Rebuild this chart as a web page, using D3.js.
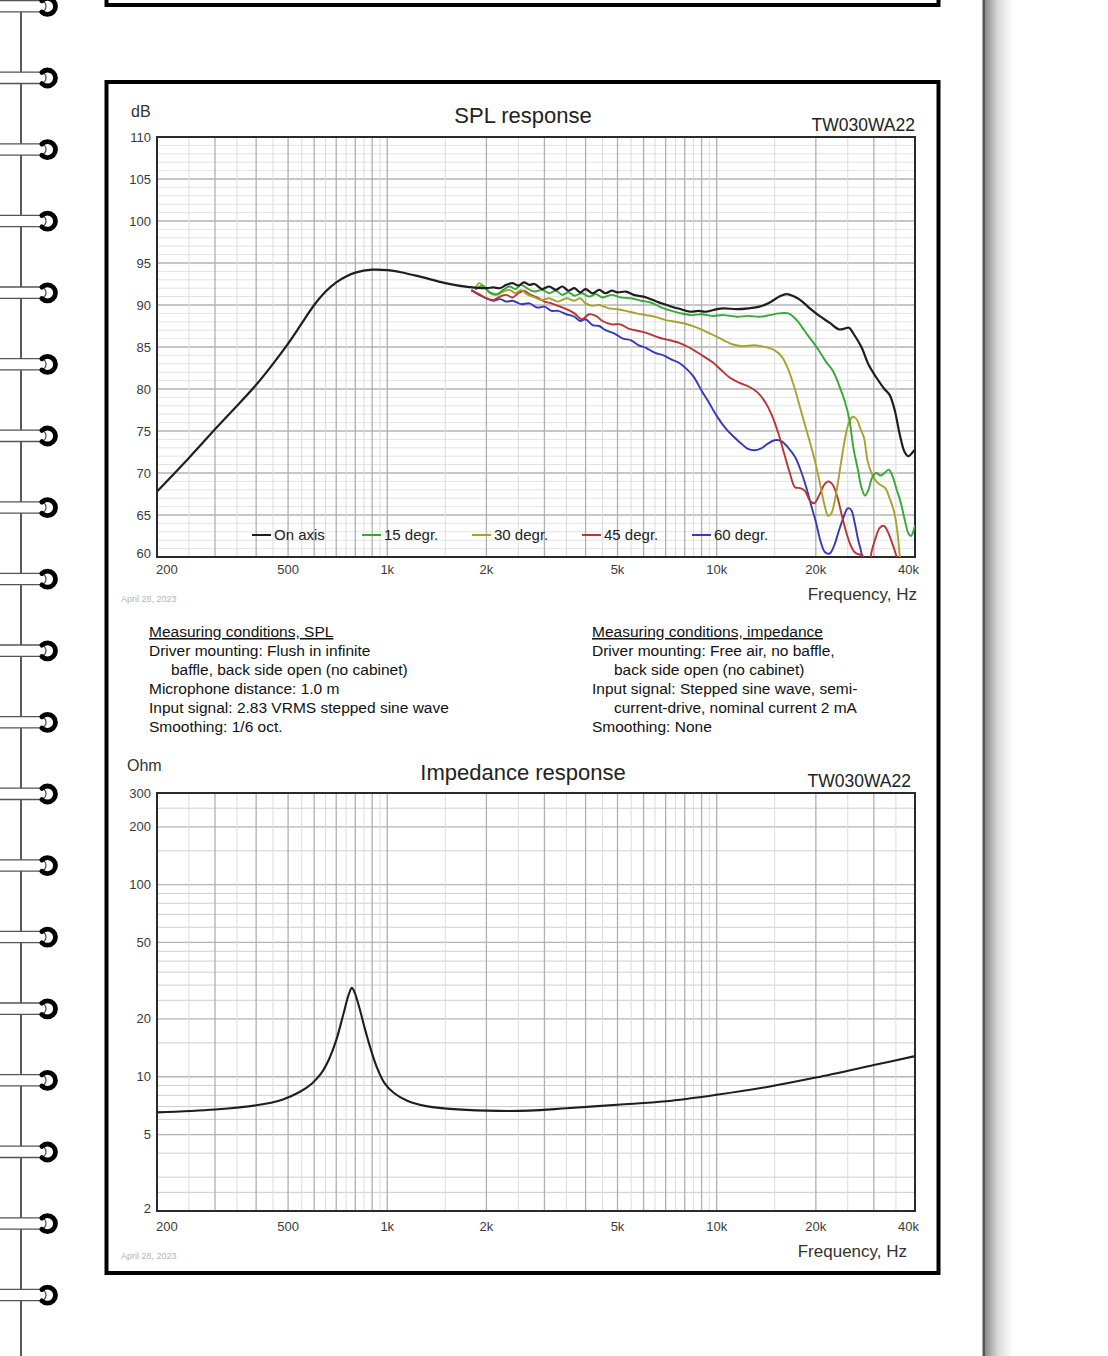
<!DOCTYPE html>
<html><head><meta charset="utf-8">
<script src="https://cdn.jsdelivr.net/npm/d3@7"></script>
<style>
body{margin:0;background:#fff}
svg{display:block}
text{font-family:"Liberation Sans",Arial,Helvetica,sans-serif}
</style>
</head><body>
<svg id="c" width="1108" height="1356"></svg>
<script>
// ---------- data ----------
const freqTicks = [200, 500, 1000, 2000, 5000, 10000, 20000, 40000];
const freqTickLabels = ["200", "500", "1k", "2k", "5k", "10k", "20k", "40k"];
const splTicks = [60, 65, 70, 75, 80, 85, 90, 95, 100, 105, 110];
const impTicks = [2, 5, 10, 20, 50, 100, 200, 300];
const impGrid = [2, 2.5, 3, 4, 5, 6, 7, 8, 9, 10, 15, 20, 25, 30, 35, 40, 45, 50, 60, 70, 80, 90, 100, 150, 200, 250, 300];

const seriesNames = ["On axis", "15 degr.", "30 degr.", "45 degr.", "60 degr."];
const seriesColors = ["#1e1e1e", "#35a835", "#a8a22c", "#bb3535", "#3838bb"];

const onAxisF = [200,250,300,350,400,450,500,550,600,650,700,750,800,900,1000,1100,1250,1500,1750,2000,
  2100,2200,2300,2400,2500,2600,2700,2800,2950,3100,3250,3400,3550,3700,3850,4000,4200,4400,4600,4800,5000,5300,5600,
  6000,6400,6800,7300,7800,8300,8800,9300,10000,10500,11500,12500,13500,14500,15500,16300,17200,18200,19300,20500,
  22000,23500,24500,25200,26200,27500,29000,30500,32300,33500,34700,36000,37200,38200,39000,40000];
const onAxisDb = [67.8,71.8,75.2,78.0,80.5,83.0,85.4,87.8,90.0,91.6,92.7,93.4,93.85,94.2,94.15,93.9,93.4,92.6,92.15,92.0,
  92.1,92.0,92.4,92.6,92.3,92.7,92.4,92.5,91.9,92.2,91.8,92.2,91.7,92.0,91.5,91.9,91.4,91.8,91.4,91.7,91.5,91.6,91.2,
  91.0,90.6,90.2,89.8,89.5,89.2,89.3,89.2,89.5,89.6,89.5,89.6,89.8,90.3,91.0,91.3,91.0,90.4,89.5,88.7,
  87.9,87.1,87.2,87.3,86.4,85.0,82.8,81.4,80.0,79.3,77.5,74.5,72.5,72.0,72.3,72.8];

const deg15F = [1850,1950,2050,2150,2250,2350,2450,2550,2650,2800,2950,3100,3250,3400,3550,3700,3900,4100,4300,4500,4800,
  5100,5500,5900,6300,6800,7300,7800,8400,9000,9700,10500,11500,12500,13500,14500,15500,16500,17500,18500,19500,20500,
  21500,22500,23500,24500,25300,26000,26800,27500,28200,28900,29600,30500,31500,32500,33300,34200,35200,36200,37200,
  38200,38900,39500,40000];
const deg15Db = [91.8,92.3,91.5,91.3,91.8,92.2,91.9,92.4,92.0,91.6,91.8,91.4,91.7,91.2,91.5,91.1,91.4,91.0,91.3,90.9,91.2,
  90.9,90.8,90.5,90.3,89.7,89.3,89.0,88.8,88.9,88.7,88.8,88.6,88.7,88.6,88.8,89.0,89.0,88.2,86.9,85.7,84.5,
  83.2,82.2,80.5,78.5,76.3,73.0,70.5,68.3,67.3,68.0,69.4,70.0,69.7,70.1,70.4,69.6,68.0,66.5,64.5,
  62.8,62.5,63.0,63.8];

const deg30F = [1850,1900,1950,2050,2150,2250,2350,2450,2550,2650,2800,2950,3100,3300,3500,3700,3850,4000,4200,4400,4700,
  5000,5300,5700,6100,6500,7000,7500,8000,8600,9200,9800,10500,11200,12000,13000,14000,15000,15800,16500,17300,18000,
  18700,19400,20000,20700,21300,21800,22300,23000,23800,24500,25200,25900,26600,27300,28000,28700,29500,30500,31400,
  32500,33500,34500,35300,36000,36500];
const deg30Db = [91.9,92.6,92.3,91.4,91.2,91.6,91.8,91.4,91.8,91.3,90.9,90.6,90.8,90.4,90.8,90.5,90.8,90.2,89.9,90.0,89.6,
  89.5,89.3,89.0,88.8,88.6,88.2,88.0,87.8,87.4,86.9,86.4,85.8,85.3,85.1,85.2,85.0,84.6,83.8,82.3,79.9,77.5,
  75.2,73.0,71.0,68.3,66.0,64.9,65.2,67.4,71.0,74.0,76.0,76.7,76.4,75.3,74.2,71.5,70.0,69.0,68.6,
  68.2,67.0,65.5,63.3,59.8,56.0];

const deg45F = [1800,1900,2000,2100,2200,2300,2400,2500,2600,2700,2850,3000,3150,3300,3500,3700,3900,4100,4300,4500,4800,
  5100,5400,5800,6200,6700,7200,7700,8200,8700,9200,9700,10300,11000,11800,12500,13300,14000,14700,15400,16000,16700,
  17300,17900,18500,19200,19800,20500,21200,21800,22500,23300,24000,24800,25500,26200,27000,27700,28400,29000,29600,
  30400,31300,32200,33000,34000,35000,36000];
const deg45Db = [91.7,91.3,90.8,90.6,91.0,91.2,90.9,91.4,91.7,91.3,90.9,90.4,90.2,89.9,89.5,89.0,88.3,88.9,88.7,88.1,87.7,
  87.7,87.2,86.9,86.6,86.1,85.8,85.5,85.0,84.4,83.8,83.2,82.3,81.3,80.7,80.3,79.6,78.5,76.9,74.7,72.4,69.9,
  68.3,68.2,67.9,66.7,66.4,67.4,68.6,69.0,68.6,67.0,64.9,62.8,61.4,60.6,60.3,60.2,59.0,59.3,60.8,
  62.3,63.5,63.7,63.1,61.8,60.3,58.5];

const deg60F = [1800,1900,2000,2100,2200,2300,2400,2550,2700,2850,3000,3150,3300,3500,3700,3850,4000,4200,4400,4600,4900,
  5200,5500,5800,6100,6500,6900,7300,7700,8100,8500,9000,9500,10000,10600,11200,11800,12400,13000,13600,14300,15000,
  15700,16500,17300,18000,18700,19400,20000,20700,21300,22000,22700,23400,24200,25000,25600,26200,26900,27500,28000];
const deg60Db = [91.8,91.2,90.8,90.5,90.7,90.4,90.5,90.1,90.2,89.7,89.8,89.3,89.3,88.9,88.6,88.1,88.3,87.6,87.5,87.0,86.6,
  86.0,85.8,85.2,84.9,84.3,84.0,83.5,83.1,82.4,81.5,79.8,78.3,76.8,75.4,74.4,73.6,72.9,72.7,72.9,73.5,73.9,
  73.8,73.0,71.9,70.3,68.3,66.0,64.2,61.8,60.6,60.4,61.3,62.9,64.6,65.8,65.6,64.2,62.0,60.5,58.0];

const impF = [200,300,400,480,540,590,630,665,700,735,765,781,797,825,855,890,930,980,1050,1150,1300,1550,2000,2700,3500,5000,7000,10000,14500,20000,30000,40000];
const impOhm = [6.52,6.75,7.1,7.6,8.3,9.2,10.4,12.3,15.5,21.0,27.0,29.0,27.3,22.5,17.8,14.0,11.2,9.3,8.2,7.5,7.05,6.8,6.66,6.66,6.85,7.15,7.45,8.06,8.9,9.9,11.5,12.8];

// ---------- setup ----------
const svg = d3.select("#c");

// notebook binding
const bind = svg.append("g");
bind.append("line").attr("x1",21).attr("x2",21).attr("y1",0).attr("y2",1356)
  .attr("stroke","#5a5a5a").attr("stroke-width",2);
for (let k = 0; k < 20; k++) {
  const cy = 6.4 + 71.6 * k;
  bind.append("rect").attr("x",-12).attr("y",cy-5.8).attr("width",58).attr("height",11.3).attr("rx",5.5)
    .attr("fill","#fff").attr("stroke","#555").attr("stroke-width",1.3);
  const r = 8, cx = 47.5, a0 = -135*Math.PI/180, a1 = 135*Math.PI/180;
  bind.append("path")
    .attr("d",`M${cx+r*Math.cos(a0)},${cy+r*Math.sin(a0)} A${r},${r} 0 1 1 ${cx+r*Math.cos(a1)},${cy+r*Math.sin(a1)}`)
    .attr("fill","none").attr("stroke","#000").attr("stroke-width",4.8).attr("stroke-linecap","round");
}

// page edge shadow
const defs = svg.append("defs");
const grad = defs.append("linearGradient").attr("id","shadow").attr("x1","0").attr("x2","1");
grad.append("stop").attr("offset","0").attr("stop-color","#8a8a8a");
grad.append("stop").attr("offset","0.45").attr("stop-color","#d8d8d8");
grad.append("stop").attr("offset","1").attr("stop-color","#ffffff");
svg.append("rect").attr("x",985).attr("y",0).attr("width",28).attr("height",1356).attr("fill","url(#shadow)");
svg.append("rect").attr("x",982.5).attr("y",0).attr("width",2.5).attr("height",1356).attr("fill","#555");

// frames
svg.append("rect").attr("x",106.5).attr("y",-20).attr("width",832).attr("height",25)
  .attr("fill","none").attr("stroke","#000").attr("stroke-width",4);
svg.append("rect").attr("x",106.5).attr("y",82).attr("width",832).attr("height",1191)
  .attr("fill","none").attr("stroke","#000").attr("stroke-width",4);

const L = 157, R = 915;

function vGridValues() {
  const v = [];
  for (let f = 200; f <= 1000; f += 50) v.push(f);
  for (let f = 1500; f <= 10000; f += 500) v.push(f);
  for (let f = 15000; f <= 40000; f += 5000) v.push(f);
  return v;
}
function isMajorF(f) {
  if (f < 1000) return f % 100 === 0;
  if (f < 10000) return f % 1000 === 0;
  return f % 10000 === 0;
}

function drawXAxis(g, x, labelY) {
  g.selectAll(".xl").data(freqTicks).enter().append("text")
    .attr("x",(d,i)=> i===0 ? 156 : (i===freqTicks.length-1 ? 919 : x(d)))
    .attr("y",labelY)
    .attr("text-anchor",(d,i)=> i===0 ? "start" : (i===freqTicks.length-1 ? "end" : "middle"))
    .attr("font-size",13).attr("fill","#3a3a3a")
    .text((d,i)=>freqTickLabels[i]);
}

// ---------- SPL chart ----------
const xS = d3.scaleLog().domain([200,40000]).range([L,R]);
const yS = d3.scaleLinear().domain([60,110]).range([557,137]);
const gS = svg.append("g");

const splMinor = d3.range(60,111,1);
gS.selectAll(".hg").data(splMinor).enter().append("line")
  .attr("x1",L).attr("x2",R).attr("y1",d=>yS(d)).attr("y2",d=>yS(d))
  .attr("stroke",d=> d%5===0 ? "#b4b4b4" : "#e3e3e3").attr("stroke-width",d=> d%5===0 ? 1.3 : 1);
gS.selectAll(".vg").data(vGridValues()).enter().append("line")
  .attr("x1",d=>xS(d)).attr("x2",d=>xS(d)).attr("y1",137).attr("y2",557)
  .attr("stroke",d=> isMajorF(d) ? "#b0b0b0" : "#dcdcdc").attr("stroke-width",d=> isMajorF(d) ? 1.3 : 1);
gS.append("rect").attr("x",L).attr("y",137).attr("width",R-L).attr("height",420)
  .attr("fill","none").attr("stroke","#2a2a2a").attr("stroke-width",2);

defs.append("clipPath").attr("id","clipS").append("rect").attr("x",L).attr("y",137).attr("width",R-L).attr("height",420);

const line = d3.line().x(d=>xS(d[0])).y(d=>yS(d[1])).curve(d3.curveCatmullRom.alpha(0.5));
const seriesF = [onAxisF, deg15F, deg30F, deg45F, deg60F];
const seriesDb = [onAxisDb, deg15Db, deg30Db, deg45Db, deg60Db];
const gc = gS.append("g").attr("clip-path","url(#clipS)");
for (let s = 4; s >= 0; s--) {
  const pts = seriesF[s].map((f,i)=>[f, seriesDb[s][i]]);
  gc.append("path").attr("d",line(pts)).attr("fill","none")
    .attr("stroke",seriesColors[s]).attr("stroke-width", s===0 ? 2.2 : 1.9)
    .attr("stroke-linejoin","round");
}

// legend
const lg = gS.append("g");
seriesNames.forEach((n,i)=>{
  const x0 = 252 + i*110;
  lg.append("line").attr("x1",x0).attr("x2",x0+19).attr("y1",535).attr("y2",535)
    .attr("stroke",seriesColors[i]).attr("stroke-width",2);
  lg.append("text").attr("x",x0+22).attr("y",540).attr("font-size",15).attr("fill","#222").text(n);
});

// y labels
gS.selectAll(".yl").data(splTicks).enter().append("text")
  .attr("x",151).attr("y",d=>Math.min(yS(d),553)+4.5).attr("text-anchor","end")
  .attr("font-size",13).attr("fill","#3a3a3a").text(d=>d);
drawXAxis(gS, xS, 574);

gS.append("text").attr("x",131).attr("y",117).attr("font-size",16).attr("fill","#333").text("dB");
gS.append("text").attr("x",523).attr("y",123).attr("text-anchor","middle").attr("font-size",22).attr("fill","#222").text("SPL response");
gS.append("text").attr("x",915).attr("y",131).attr("text-anchor","end").attr("font-size",17.5).attr("fill","#222").text("TW030WA22");
gS.append("text").attr("x",917).attr("y",600).attr("text-anchor","end").attr("font-size",17).attr("fill","#333").text("Frequency, Hz");
gS.append("text").attr("x",121).attr("y",602).attr("font-size",9).attr("fill","#b5b5b5").text("April 28, 2023");

// ---------- measuring conditions ----------
const condSPL = [
  ["Measuring conditions, SPL", 0, true],
  ["Driver mounting: Flush in infinite", 0, false],
  ["baffle, back side open (no cabinet)", 1, false],
  ["Microphone distance: 1.0 m", 0, false],
  ["Input signal: 2.83 VRMS stepped sine wave", 0, false],
  ["Smoothing: 1/6 oct.", 0, false]
];
const condImp = [
  ["Measuring conditions, impedance", 0, true],
  ["Driver mounting: Free air, no baffle,", 0, false],
  ["back side open (no cabinet)", 1, false],
  ["Input signal: Stepped sine wave, semi-", 0, false],
  ["current-drive, nominal current 2 mA", 1, false],
  ["Smoothing: None", 0, false]
];
function drawCond(rows, x0) {
  rows.forEach((r,i)=>{
    svg.append("text").attr("x", x0 + (r[1] ? 22 : 0)).attr("y", 637 + i*19)
      .attr("font-size",15.5).attr("fill","#111")
      .style("text-decoration", r[2] ? "underline" : "none").text(r[0]);
  });
}
drawCond(condSPL, 149);
drawCond(condImp, 592);

// ---------- Impedance chart ----------
const xI = d3.scaleLog().domain([200,40000]).range([L,R]);
const yI = d3.scaleLog().domain([2,300]).range([1211,793]);
const gI = svg.append("g");
gI.selectAll(".hg").data(impGrid).enter().append("line")
  .attr("x1",L).attr("x2",R).attr("y1",d=>yI(d)).attr("y2",d=>yI(d))
  .attr("stroke",d=> impTicks.includes(d) ? "#b4b4b4" : "#cfcfcf").attr("stroke-width",d=> impTicks.includes(d) ? 1.3 : 1);
gI.selectAll(".vg").data(vGridValues()).enter().append("line")
  .attr("x1",d=>xI(d)).attr("x2",d=>xI(d)).attr("y1",793).attr("y2",1211)
  .attr("stroke",d=> isMajorF(d) ? "#b0b0b0" : "#dcdcdc").attr("stroke-width",d=> isMajorF(d) ? 1.3 : 1);
gI.append("rect").attr("x",L).attr("y",793).attr("width",R-L).attr("height",418)
  .attr("fill","none").attr("stroke","#2a2a2a").attr("stroke-width",2);

const lineI = d3.line().x(d=>xI(d[0])).y(d=>yI(d[1])).curve(d3.curveCatmullRom.alpha(0.5));
gI.append("path").attr("d",lineI(impF.map((f,i)=>[f,impOhm[i]])))
  .attr("fill","none").attr("stroke","#1e1e1e").attr("stroke-width",2.1);

gI.selectAll(".yl").data(impTicks).enter().append("text")
  .attr("x",151).attr("y",d=>Math.min(yI(d),1208)+4.5).attr("text-anchor","end")
  .attr("font-size",13).attr("fill","#3a3a3a").text(d=>d);
drawXAxis(gI, xI, 1231);

gI.append("text").attr("x",127).attr("y",771).attr("font-size",16).attr("fill","#333").text("Ohm");
gI.append("text").attr("x",523).attr("y",780).attr("text-anchor","middle").attr("font-size",22).attr("fill","#222").text("Impedance response");
gI.append("text").attr("x",911).attr("y",787).attr("text-anchor","end").attr("font-size",17.5).attr("fill","#222").text("TW030WA22");
gI.append("text").attr("x",907).attr("y",1257).attr("text-anchor","end").attr("font-size",17).attr("fill","#333").text("Frequency, Hz");
gI.append("text").attr("x",121).attr("y",1259).attr("font-size",9).attr("fill","#b5b5b5").text("April 28, 2023");
</script>
</body></html>
